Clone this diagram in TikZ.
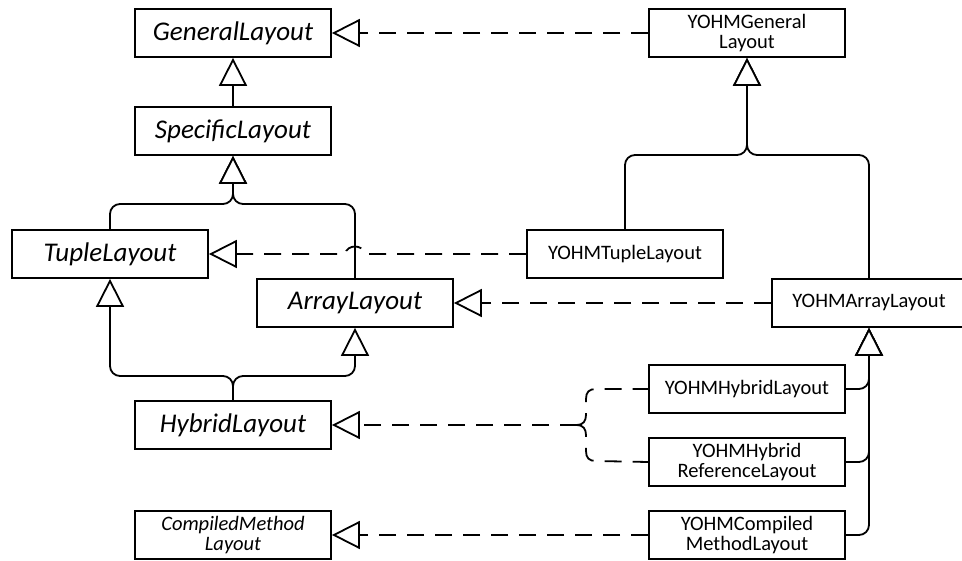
\documentclass[tikz,border=0pt]{standalone}
\usepackage{fontspec}
\setmainfont{Carlito}
\usetikzlibrary{arrows.meta,positioning}

\tikzset{
  cls/.style={draw, line width=1.8pt, minimum width=196pt, minimum height=48pt,
    inner sep=0pt, align=center, font=\fontsize{27}{30}\selectfont\itshape},
  ycls/.style={cls, font=\fontsize{20.5}{20.5}\selectfont},
  inh/.style={-{Triangle[length=28pt, width=28pt, fill=white]}, line width=1.8pt},
  real/.style={inh, dash pattern=on 17pt off 11pt},
  bus/.style={inh, rounded corners=10pt},
}

\begin{document}
\begin{tikzpicture}[x=1pt, y=-1pt]
  \useasboundingbox (0,0) rectangle (962,561);

  % abstract layouts
  \node[cls] (gen)  at (233,33)  {GeneralLayout};
  \node[cls] (spec) at (233,131) {SpecificLayout};
  \node[cls] (tup)  at (110,254) {TupleLayout};
  \node[cls] (arr)  at (355,303) {ArrayLayout};
  \node[cls] (hyb)  at (233,425) {HybridLayout};
  \node[cls, font=\fontsize{20.5}{20}\selectfont\itshape] (comp) at (233,535)
    {CompiledMethod\\Layout};

  % YOHM layouts
  \node[ycls] (ygen)  at (747,33)  {YOHMGeneral\\Layout};
  \node[ycls] (ytup)  at (625,254) {YOHMTupleLayout};
  \node[ycls, minimum width=194pt] (yarr) at (869,303) {YOHMArrayLayout};
  \node[ycls] (yhyb)  at (747,389) {YOHMHybridLayout};
  \node[ycls] (yhref) at (747,462) {YOHMHybrid\\ReferenceLayout};
  \node[ycls] (ycomp) at (747,535) {YOHMCompiled\\MethodLayout};

  % junctions
  \coordinate (sj)  at (233,204);
  \coordinate (hj)  at (233,376);
  \coordinate (yj)  at (747,155);
  \coordinate (hopR) at (365,254);
  \coordinate (hopL) at (345,254);
  \coordinate (brc) at (577,425);

  % inheritance
  \draw[inh] (spec) -- (gen);
  \draw[bus] (tup.north) |- (sj) -- (spec.south);
  \draw[bus] (arr.north) |- (sj) -- (spec.south);
  \draw[bus] (hyb.north) -- (hj) -| (tup.south);
  \draw[bus] (hyb.north) -- (hj) -| (arr.south);
  \draw[bus] (ytup.north) |- (yj) -- (ygen.south);
  \draw[bus] (yarr.north) |- (yj) -- (ygen.south);
  \foreach \c in {yhyb, yhref, ycomp}
    \draw[bus] (\c.east) -| (yarr.south);

  % realization
  \draw[real] (ygen) -- (gen);
  \draw[real] (ytup.west) -- (hopR) .. controls (363,244) and (347,244) .. (hopL) -- (tup.east);
  \draw[real] (yarr) -- (arr);
  \draw[real] (brc) -- (hyb.east);
  \draw[real, -] (brc) .. controls (583,425) and (586,421) .. (586,415) -- (586,399)
    .. controls (586,392) and (589,389) .. (596,389) -- (yhyb.west);
  \draw[real, -] (brc) .. controls (583,425) and (586,429) .. (586,435) -- (586,451)
    .. controls (586,458) and (589,461) .. (596,461) -- (yhref.west);
  \draw[real] (ycomp) -- (comp);
\end{tikzpicture}
\end{document}
